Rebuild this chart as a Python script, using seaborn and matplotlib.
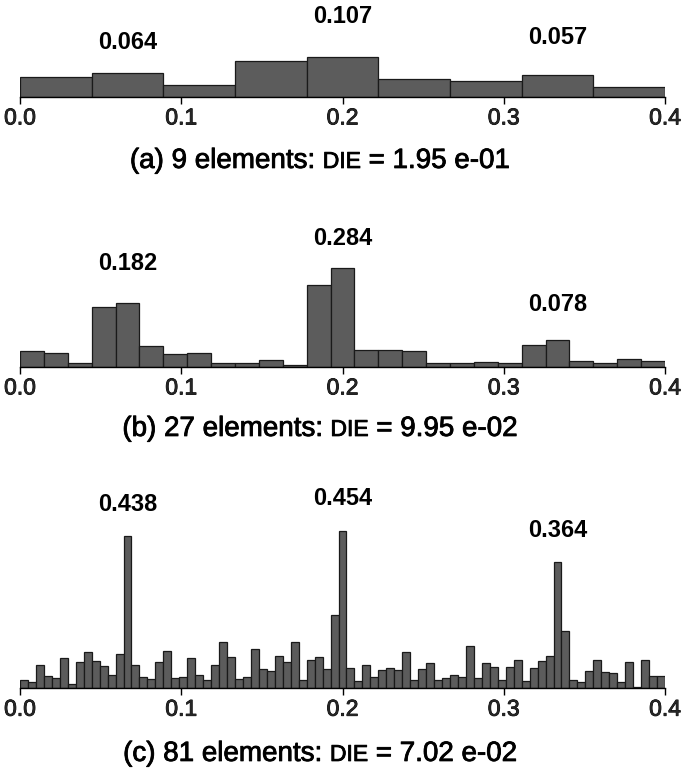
import numpy as np
import pandas as pd
import matplotlib
matplotlib.use("Agg")
import matplotlib.pyplot as plt
import matplotlib.patheffects as pe
import seaborn as sns
from matplotlib.transforms import IdentityTransform

sns.set_style("white")
plt.rcParams['font.family'] = ['Liberation Sans', 'DejaVu Sans']

# ---------------- data ----------------
x_range = (0.0, 0.4)
tick_values = [0.0, 0.1, 0.2, 0.3, 0.4]
tick_labels = ["0.0", "0.1", "0.2", "0.3", "0.4"]

values_a = [0.054, 0.064, 0.030, 0.096, 0.107, 0.046, 0.041, 0.057, 0.025]

values_b = [0.045, 0.039, 0.012, 0.172, 0.182, 0.059, 0.036, 0.039, 0.012,
            0.012, 0.019, 0.004, 0.235, 0.284, 0.048, 0.048, 0.045, 0.010,
            0.010, 0.013, 0.010, 0.061, 0.078, 0.016, 0.010, 0.022, 0.015]

values_c = [0.024, 0.018, 0.067, 0.034, 0.030, 0.086, 0.013, 0.076, 0.103,
            0.079, 0.063, 0.039, 0.097, 0.438, 0.067, 0.031, 0.026, 0.074,
            0.108, 0.028, 0.031, 0.086, 0.039, 0.023, 0.066, 0.133, 0.089,
            0.026, 0.031, 0.114, 0.054, 0.050, 0.093, 0.076, 0.133, 0.022,
            0.081, 0.089, 0.054, 0.212, 0.454, 0.059, 0.020, 0.066, 0.033,
            0.051, 0.059, 0.053, 0.105, 0.023, 0.056, 0.071, 0.023, 0.028,
            0.037, 0.031, 0.122, 0.028, 0.073, 0.062, 0.023, 0.062, 0.081,
            0.020, 0.059, 0.079, 0.092, 0.364, 0.166, 0.023, 0.018, 0.048,
            0.081, 0.045, 0.042, 0.018, 0.074, 0.002, 0.081, 0.035, 0.035]

peak_bins_a = [1, 4, 7]
peak_labels_a = ["0.064", "0.107", "0.057"]
peak_bins_b = [4, 13, 22]
peak_labels_b = ["0.182", "0.284", "0.078"]
peak_bins_c = [13, 40, 67]
peak_labels_c = ["0.438", "0.454", "0.364"]

captions = [
    ("(a) 9 elements:", "DIE", "= 1.95 e-01"),
    ("(b) 27 elements:", "DIE", "= 9.95 e-02"),
    ("(c) 81 elements:", "DIE", "= 7.02 e-02"),
]

# ---------------- layout (pixels) ----------------
W, H = 683, 769
fig = plt.figure(figsize=(W / 100, H / 100), dpi=100)
fig.patch.set_facecolor("white")

AX_LEFT, AX_RIGHT = 20, 665
BAR_COLOR = "#5c5c5c"
EDGE_COLOR = "#1a1a1a"
TICK_SIZE = 16.5
PEAK_SIZE = 17
CAP_SIZE = 20
DIE_SIZE = 16.5
THICK = [pe.withStroke(linewidth=0.6, foreground="black")]


def draw_panel(values, bins, labels, baseline_px, px_per_unit, height_px, offsets_px):
    n = len(values)
    width = (x_range[1] - x_range[0]) / n
    centers = x_range[0] + (np.arange(n) + 0.5) * width
    df = pd.DataFrame({"pos": centers, "val": values})
    ax = fig.add_axes([AX_LEFT / W, (H - baseline_px) / H,
                       (AX_RIGHT - AX_LEFT) / W, height_px / H])
    sns.histplot(data=df, x="pos", weights="val", bins=n, binrange=x_range,
                 color=BAR_COLOR, edgecolor=EDGE_COLOR, linewidth=0.9,
                 alpha=1.0, ax=ax)
    ax.set_xlim(*x_range)
    ax.set_ylim(0, height_px / px_per_unit)
    ax.set_facecolor("none")
    for s in ["left", "right", "top"]:
        ax.spines[s].set_visible(False)
    ax.spines["bottom"].set_color("black")
    ax.spines["bottom"].set_linewidth(1.0)
    ax.set_yticks([])
    ax.set_xlabel("")
    ax.set_ylabel("")
    ax.set_xticks(tick_values)
    ax.set_xticklabels(tick_labels, fontsize=TICK_SIZE)
    for t in ax.get_xticklabels():
        t.set_path_effects(THICK)
    ax.tick_params(axis="x", bottom=True, length=5, width=1.0,
                   color="black", pad=2.0, direction="out")
    for b, lab, off in zip(bins, labels, offsets_px):
        ax.annotate(lab, (centers[b], values[b]), xytext=(0, off * 0.72),
                    textcoords="offset points", ha="center", va="center",
                    fontsize=PEAK_SIZE, fontweight="bold", color="black",
                    annotation_clip=False)
    return ax


def draw_caption(center_y_px, parts, center_x_px=320):
    r = fig.canvas.get_renderer()
    sizes = [CAP_SIZE, DIE_SIZE, CAP_SIZE]
    objs = []
    for s, sz in zip(parts, sizes):
        t = fig.text(0, 0, s, fontsize=sz, transform=IdentityTransform(),
                     ha="left", va="baseline", color="black",
                     path_effects=THICK)
        w = t.get_window_extent(r).width
        objs.append((t, w))
    gap = CAP_SIZE * 0.278 * 100 / 72
    total = sum(w for _, w in objs) + 2 * gap
    x = center_x_px - total / 2
    cap_h = CAP_SIZE * 100 / 72 * 0.716
    y_base = H - (center_y_px + cap_h / 2)
    for t, w in objs:
        t.set_position((x, y_base))
        x += w + gap


draw_panel(values_a, peak_bins_a, peak_labels_a, 96.7, 374, 96, [30, 40, 38])
draw_panel(values_b, peak_bins_b, peak_labels_b, 366.7, 348.6, 150, [40, 29, 35])
draw_panel(values_c, peak_bins_c, peak_labels_c, 688, 346, 200, [32, 32, 32])

draw_caption(158, captions[0])
draw_caption(426, captions[1])
draw_caption(751, captions[2])

fig.savefig("out.png", dpi=100, facecolor="white")
